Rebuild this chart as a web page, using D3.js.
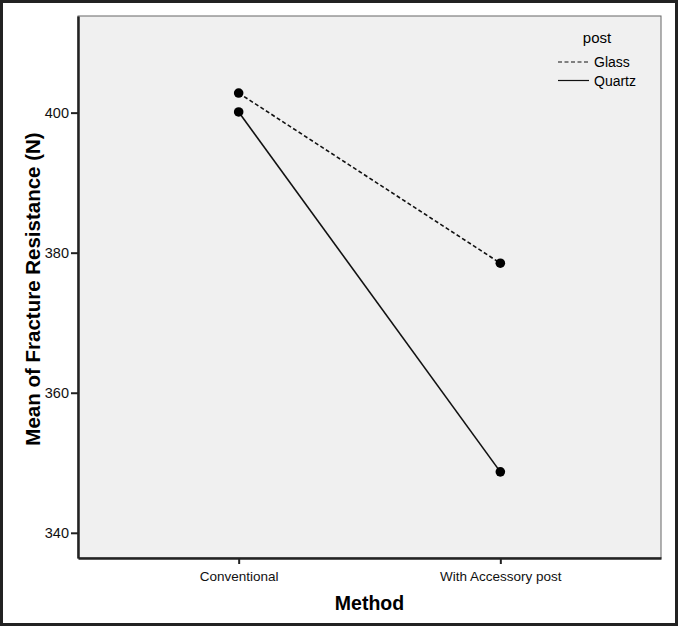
<!DOCTYPE html>
<html>
<head>
<meta charset="utf-8">
<script src="https://cdn.jsdelivr.net/npm/d3@7"></script>
<style>
  body { margin: 0; background: #fff; }
  svg { display: block; }
  text { font-family: Arial, "Liberation Sans", sans-serif; }
</style>
</head>
<body>
<div id="chart"></div>
<script>
// data
var methods = ["Conventional", "With Accessory post"];
var seriesNames = ["Glass", "Quartz"];
var glassValues = [402.8, 378.5];
var quartzValues = [400.1, 348.7];
var yTicks = [340, 360, 380, 400];

var width = 678, height = 626;
var plot = {left: 78, top: 16, right: 661, bottom: 558};

var svg = d3.select("#chart").append("svg")
    .attr("width", width)
    .attr("height", height);

// outer frame
svg.append("rect")
    .attr("x", 1.5).attr("y", 1.5)
    .attr("width", width - 3).attr("height", height - 3)
    .attr("fill", "#fff")
    .attr("stroke", "#222")
    .attr("stroke-width", 3);

var x = d3.scalePoint()
    .domain(methods)
    .range([plot.left, plot.right])
    .padding(0.614);

var y = d3.scaleLinear()
    .domain([336.4, 413.8])
    .range([plot.bottom, plot.top]);

// plot background
svg.append("rect")
    .attr("x", plot.left).attr("y", plot.top)
    .attr("width", plot.right - plot.left)
    .attr("height", plot.bottom - plot.top)
    .attr("fill", "#f0f0f0")
    .attr("stroke", "#666")
    .attr("stroke-width", 1);

// axes
var yAxis = d3.axisLeft(y).tickValues(yTicks).tickSizeInner(7).tickSizeOuter(0).tickPadding(2);
var gy = svg.append("g")
    .attr("transform", "translate(" + plot.left + ",0)")
    .call(yAxis);
gy.select(".domain").attr("stroke", "#222").attr("stroke-width", 2.5);
gy.selectAll(".tick line").attr("stroke", "#222").attr("stroke-width", 2);
gy.selectAll(".tick text").attr("font-size", 14.5).attr("fill", "#111");

var xAxis = d3.axisBottom(x).tickSizeInner(6).tickSizeOuter(0).tickPadding(7);
var gx = svg.append("g")
    .attr("transform", "translate(0," + plot.bottom + ")")
    .call(xAxis);
gx.select(".domain").attr("stroke", "#222").attr("stroke-width", 2.5);
gx.selectAll(".tick line").attr("stroke", "#222").attr("stroke-width", 2);
gx.selectAll(".tick text").attr("font-size", 13.5).attr("fill", "#111");

// axis titles
svg.append("text")
    .attr("x", (plot.left + plot.right) / 2)
    .attr("y", 610)
    .attr("text-anchor", "middle")
    .attr("font-size", 19.5)
    .attr("font-weight", "bold")
    .text("Method");

svg.append("text")
    .attr("transform", "translate(40," + ((plot.top + plot.bottom) / 2 + 2) + ") rotate(-90)")
    .attr("text-anchor", "middle")
    .attr("font-size", 20.5)
    .attr("font-weight", "bold")
    .text("Mean of Fracture Resistance (N)");

// lines
var series = [
    {name: seriesNames[0], values: glassValues, dash: "4,2.5"},
    {name: seriesNames[1], values: quartzValues, dash: null}
];

var line = d3.line()
    .x(function(d, i) { return x(methods[i]); })
    .y(function(d) { return y(d); });

series.forEach(function(s) {
    svg.append("path")
        .datum(s.values)
        .attr("d", line)
        .attr("fill", "none")
        .attr("stroke", "#111")
        .attr("stroke-width", 1.6)
        .attr("stroke-dasharray", s.dash);

    svg.selectAll(null)
        .data(s.values)
        .enter()
        .append("circle")
        .attr("cx", function(d, i) { return x(methods[i]); })
        .attr("cy", function(d) { return y(d); })
        .attr("r", 4.8)
        .attr("fill", "#000");
});

// legend
var legend = svg.append("g");
legend.append("text")
    .attr("x", 597).attr("y", 43)
    .attr("text-anchor", "middle")
    .attr("font-size", 15)
    .text("post");

series.forEach(function(s, i) {
    var ly = 62 + i * 18.5;
    legend.append("line")
        .attr("x1", 558).attr("x2", 589)
        .attr("y1", ly).attr("y2", ly)
        .attr("stroke", "#111")
        .attr("stroke-width", 1.2)
        .attr("stroke-dasharray", s.dash);
    legend.append("text")
        .attr("x", 594).attr("y", ly + 5)
        .attr("font-size", 14)
        .text(s.name);
});
</script>
</body>
</html>
